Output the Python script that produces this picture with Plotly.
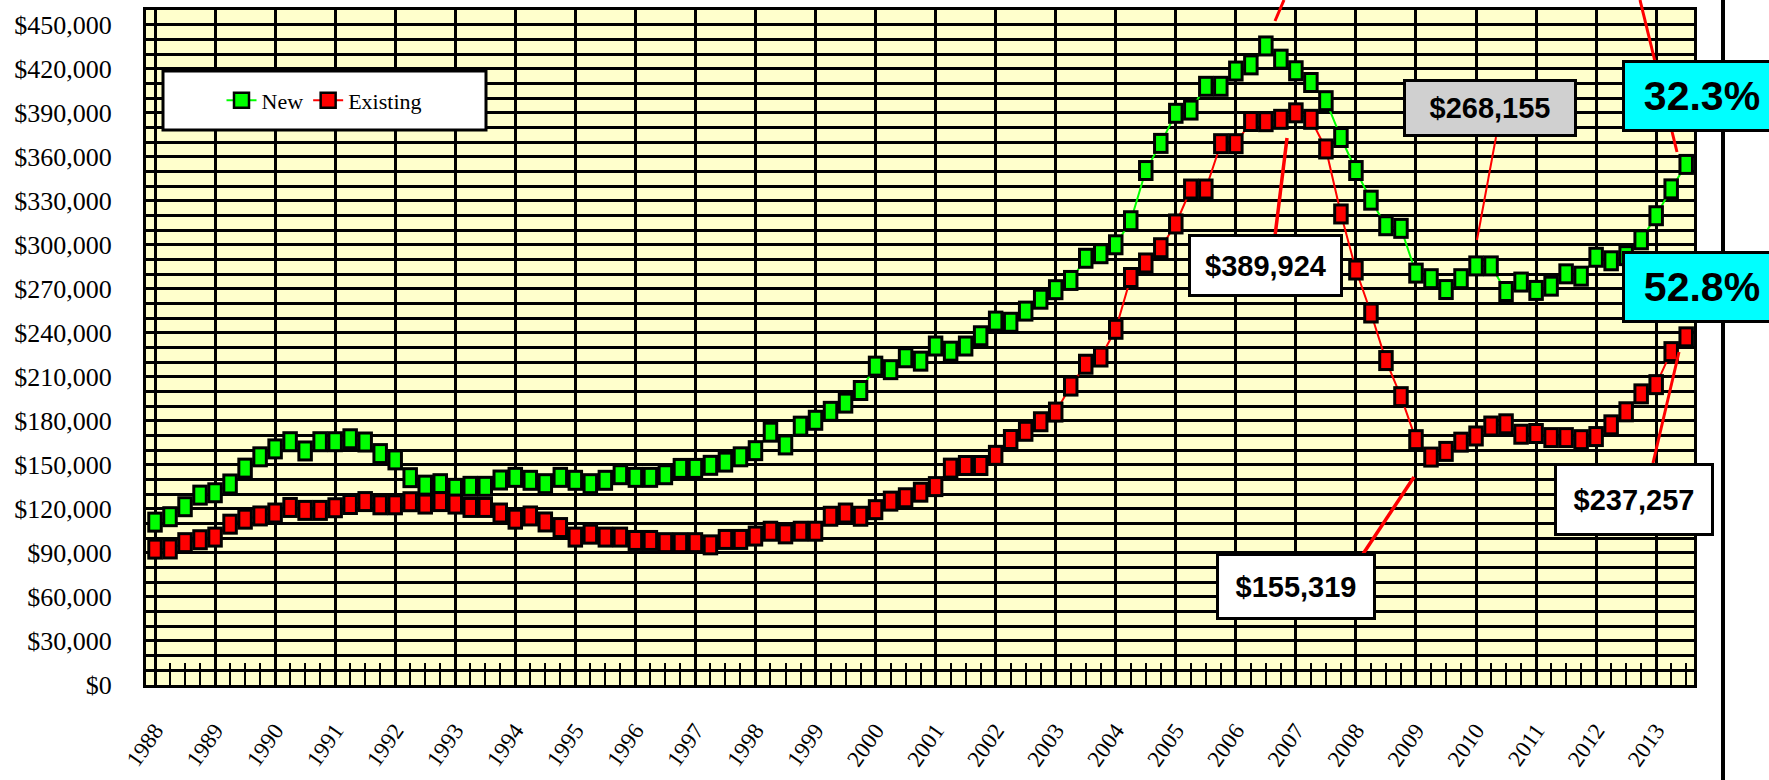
import plotly.graph_objects as go

# ---------------- data ----------------
years = list(range(1988, 2014))
year_labels = [str(y) for y in years]

# quarterly median prices, 1988Q1 .. 2013Q3
new_price = [
    111000, 114700, 121500, 129400,   # 1988
    131000, 137000, 147800, 155500,   # 1989
    160900, 165800, 159500, 165800,   # 1990
    165800, 167800, 165600, 157700,   # 1991
    153400, 141300, 136200, 137200,   # 1992
    134000, 135400, 135400, 139700,   # 1993
    141500, 139500, 137200, 141500,   # 1994
    139500, 137200, 139500, 143300,   # 1995
    141500, 141500, 143300, 147600,   # 1996
    147600, 149700, 151900, 155500,   # 1997
    159700, 172300, 163600, 176400,   # 1998
    180400, 186500, 192100, 200700,   # 1999
    217300, 214900, 223000, 220700,   # 2000
    231000, 227500, 231000, 238000,   # 2001
    248000, 247200, 254800, 262900,   # 2002
    269400, 275700, 290800, 293900,   # 2003
    300000, 316400, 350600, 369100,   # 2004
    389600, 391800, 408000, 408000,   # 2005
    418400, 422600, 435500, 426500,   # 2006
    418600, 410600, 398200, 373100,   # 2007
    350600, 330400, 313000, 311200,   # 2008
    280700, 276900, 269500, 276900,   # 2009
    285600, 285600, 268155, 274600,   # 2010
    268900, 271800, 280200, 278600,   # 2011
    291500, 289100, 292600, 303400,   # 2012
    319800, 338100, 354769,           # 2013
]

existing_price = [
    92600, 92700, 97000, 99000,       # 1988
    100800, 109600, 113000, 115200,   # 1989
    117200, 121000, 119000, 119000,   # 1990
    120800, 123000, 125000, 122800,   # 1991
    122800, 124900, 123300, 125000,   # 1992
    123300, 121000, 121000, 117200,   # 1993
    113000, 115200, 111100, 107300,   # 1994
    100800, 102800, 100800, 100800,   # 1995
    98500, 98500, 97000, 97000,       # 1996
    97000, 95500, 99200, 99200,       # 1997
    101500, 104800, 103000, 104800,   # 1998
    104800, 115000, 117200, 115000,   # 1999
    119500, 125300, 127600, 131400,   # 2000
    135200, 147800, 149600, 149600,   # 2001
    156500, 167300, 172900, 179400,   # 2002
    186000, 203700, 218600, 223500,   # 2003
    242400, 277700, 287600, 298000,   # 2004
    314200, 338000, 338000, 368900,   # 2005
    368900, 384000, 383900, 385500,   # 2006
    389924, 385500, 365300, 321000,   # 2007
    282800, 253500, 221100, 196500,   # 2008
    167200, 155319, 159200, 165500,   # 2009
    169700, 176500, 178000, 170900,   # 2010
    171400, 168600, 168600, 167200,   # 2011
    169300, 177300, 186200, 198400,   # 2012
    204700, 227200, 237257,           # 2013
]

# quarter positions on a decimal-year axis
quarter_x = [years[0] + k / 4 for k in range(len(new_price))]

# ---------------- derived labels ----------------
peak_idx = existing_price.index(max(existing_price))
ex_peak = max(existing_price)
ex_trough = min(existing_price[peak_idx:])
new_trough = min(new_price[peak_idx:])
ex_last = existing_price[-1]
new_last = new_price[-1]
new_gain = new_last / new_trough - 1
ex_gain = ex_last / ex_trough - 1

# ---------------- geometry (pixels) ----------------
W, H = 1769, 780
L, R, T, B = 146, 1694, 10, 685


def fx(px):
    return (px - L) / (R - L)


def fy(py):
    return (B - py) / (B - T)


GREEN = "#00FF00"
RED = "#FF0000"
YELLOW = "#FFFFCC"
SERIF = "Liberation Serif, Times New Roman, serif"
SANS = "Liberation Sans, Arial, sans-serif"

fig = go.Figure()

for vals, col, name in [(new_price, GREEN, "New"), (existing_price, RED, "Existing")]:
    fig.add_trace(go.Scatter(x=quarter_x, y=vals, mode="lines",
                             line=dict(color=col, width=2),
                             showlegend=False, hoverinfo="skip"))
    fig.add_trace(go.Scatter(x=quarter_x, y=vals, mode="markers", name=name,
                             marker=dict(symbol="line-ns-open", size=15, color="black",
                                         line=dict(width=15.5)),
                             showlegend=False))
    fig.add_trace(go.Scatter(x=quarter_x, y=vals, mode="markers", name=name,
                             marker=dict(symbol="line-ns-open", size=10.7, color=col,
                                         line=dict(width=9.5)),
                             showlegend=False, hoverinfo="skip"))

# legend entries
for col, name in [(GREEN, "New"), (RED, "Existing")]:
    fig.add_trace(go.Scatter(x=[None], y=[None], mode="lines+markers", name=name,
                             line=dict(color=col, width=2),
                             marker=dict(symbol="square", size=15, color=col,
                                         line=dict(color="black", width=2.5))))

shapes = []
# legend box
shapes.append(dict(type="rect", xref="paper", yref="paper",
                   x0=fx(163), x1=fx(486), y0=fy(130), y1=fy(71),
                   fillcolor="white", line=dict(color="black", width=3), layer="above"))
# right frame line
shapes.append(dict(type="line", xref="paper", yref="paper",
                   x0=fx(1723), x1=fx(1723), y0=fy(-5), y1=fy(H + 5),
                   line=dict(color="black", width=4), layer="above"))
# leader lines
leaders = [
    ((1275, 236), (1287, 138), 3.5),
    ((1496, 137), (1477, 240), 2),
    ((1363, 554), (1414, 477), 3.5),
    ((1653, 463), (1679, 352), 3),
    ((1640, 0), (1677, 152), 3),
    ((1284, 0), (1275, 21), 3),
]
for (xa, ya), (xb, yb), w in leaders:
    shapes.append(dict(type="line", xref="paper", yref="paper",
                       x0=fx(xa), y0=fy(ya), x1=fx(xb), y1=fy(yb),
                       line=dict(color=RED, width=w), layer="above"))

annotations = []


def box(text, cx, cy, w, h, bg, size):
    annotations.append(dict(
        text=text, xref="paper", yref="paper", x=fx(cx), y=fy(cy),
        xanchor="center", yanchor="middle", showarrow=False,
        width=w - 6, height=h - 6, bgcolor=bg, bordercolor="black",
        borderwidth=3, borderpad=0, align="center", valign="middle",
        font=dict(family=SANS, size=size, color="black", weight="bold")))


box(f"${ex_peak:,.0f}", 1265.5, 265.5, 155, 63, "white", 29)
box(f"${new_trough:,.0f}", 1490, 108, 174, 58, "#D0D0D0", 29)
box(f"${ex_trough:,.0f}", 1296, 586.5, 160, 67, "white", 29)
box(f"${ex_last:,.0f}", 1634, 499.5, 160, 73, "white", 29)
box(f"{new_gain * 100:.1f}%", 1702, 95.5, 160, 72, "#00FFFF", 41)
box(f"{ex_gain * 100:.1f}%", 1702, 287, 160, 72, "#00FFFF", 41)

fig.update_layout(
    width=W, height=H,
    margin=dict(l=L, r=W - R, t=T, b=H - B, pad=0, autoexpand=False),
    paper_bgcolor="white", plot_bgcolor=YELLOW,
    showlegend=True,
    legend=dict(x=fx(324), y=fy(100.5), xanchor="center", yanchor="middle",
                orientation="h", bgcolor="rgba(0,0,0,0)", borderwidth=0,
                font=dict(family=SERIF, size=22, color="black"), itemsizing="trace"),
    xaxis=dict(range=[1987.85, 2013.63], tickmode="array", tickvals=years,
               ticktext=year_labels, tickangle=-55, automargin=False,
               ticks="inside", ticklen=22, tickwidth=2, tickcolor="black",
               showgrid=True, gridcolor="black", gridwidth=2.5,
               showline=True, linecolor="black", linewidth=3, mirror=True,
               zeroline=False,
               tickfont=dict(family=SERIF, size=23, color="black"),
               ticklabelstandoff=20,
               minor=dict(tick0=1988, dtick=0.25, ticks="inside", ticklen=22,
                          tickwidth=2, tickcolor="black", showgrid=False)),
    yaxis=dict(range=[0, 460000], tick0=0, dtick=30000, tickprefix="$",
               tickformat=",d", showgrid=True, gridcolor="black", gridwidth=2.5,
               automargin=False,
               minor=dict(dtick=10000, showgrid=True, gridcolor="black", gridwidth=2.5),
               showline=True, linecolor="black", linewidth=3, mirror=True,
               zeroline=False, ticks="",
               tickfont=dict(family=SERIF, size=26, color="black"),
               ticklabelstandoff=26),
    shapes=shapes,
    annotations=annotations,
)

fig.write_html("out.html", config={"displayModeBar": False},
               post_script="document.body.style.margin='0';document.body.style.overflow='hidden';")
